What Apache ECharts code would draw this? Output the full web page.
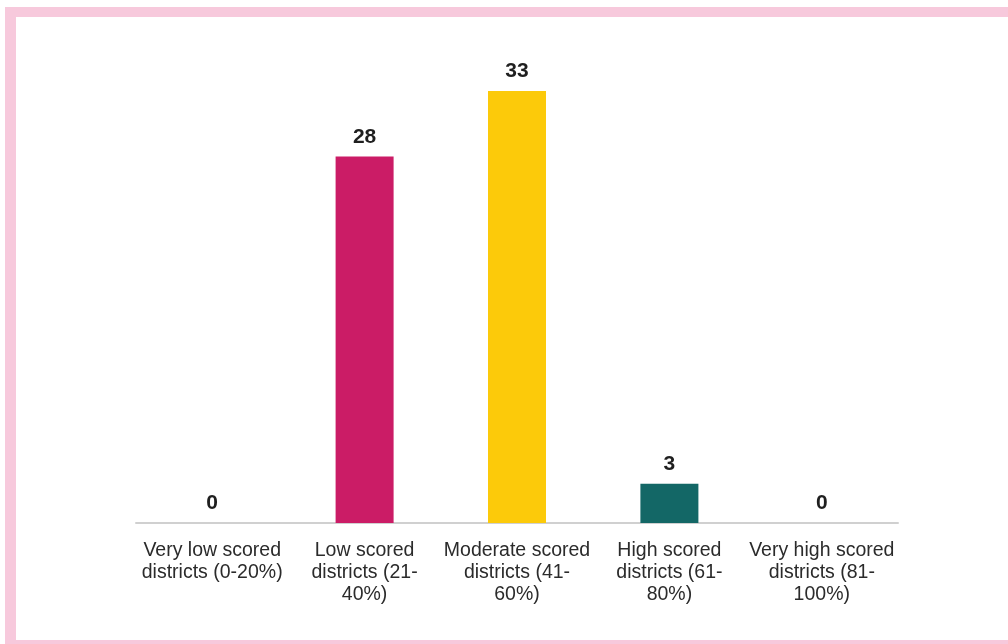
<!DOCTYPE html>
<html>
<head>
<meta charset="utf-8">
<script src="https://cdn.jsdelivr.net/npm/echarts@6/dist/echarts.min.js"></script>
<style>
  html, body {
    margin: 0;
    padding: 0;
    width: 1008px;
    height: 644px;
    overflow: hidden;
    background: #fff;
  }
  .frame {
    position: absolute;
    left: 5px;
    top: 7px;
    width: 1100px;
    height: 643px;
    box-sizing: border-box;
    border-left: 11px solid #f7c9dc;
    border-top: 10px solid #f7c9dc;
    border-bottom: 10px solid #f7c9dc;
  }
  .chart-container {
    position: absolute;
    left: 0;
    top: 0;
    width: 1008px;
    height: 644px;
  }
</style>
</head>
<body>
<div class="frame"></div>
<div class="chart-container" id="chart"></div>
<script>
// categories (line breaks as in the picture)
const categories = [
  'Very low scored\ndistricts (0-20%)',
  'Low scored\ndistricts (21-\n40%)',
  'Moderate scored\ndistricts (41-\n60%)',
  'High scored\ndistricts (61-\n80%)',
  'Very high scored\ndistricts (81-\n100%)'
]
// number of districts
const districtCounts = [0, 28, 33, 3, 0]
const barColors = ['#cb1c66', '#cb1c66', '#fcca0a', '#136766', '#136766']

const chart = echarts.init(document.getElementById('chart'))
chart.setOption({
  animation: false,
  textStyle: {
    fontFamily: 'Liberation Sans, Arial, sans-serif'
  },
  grid: {
    left: 136,
    right: 110,
    top: 91,
    bottom: 121
  },
  xAxis: {
    type: 'category',
    data: categories,
    axisLine: {
      lineStyle: { color: '#d0d0d0', width: 2 }
    },
    axisTick: { show: false },
    axisLabel: {
      interval: 0,
      margin: 17,
      fontSize: 19.5,
      lineHeight: 22,
      color: '#2b2b2b',
      align: 'center'
    }
  },
  yAxis: {
    type: 'value',
    min: 0,
    max: 33,
    show: false
  },
  series: [
    {
      type: 'bar',
      barWidth: 58,
      data: districtCounts.map((v, i) => ({
        value: v,
        itemStyle: { color: barColors[i] }
      })),
      label: {
        show: true,
        position: 'top',
        distance: 9,
        fontSize: 21,
        fontWeight: 'bold',
        color: '#1f1f1f'
      }
    }
  ]
})

window.onresize = function () {
  chart?.resize()
}
</script>
</body>
</html>
